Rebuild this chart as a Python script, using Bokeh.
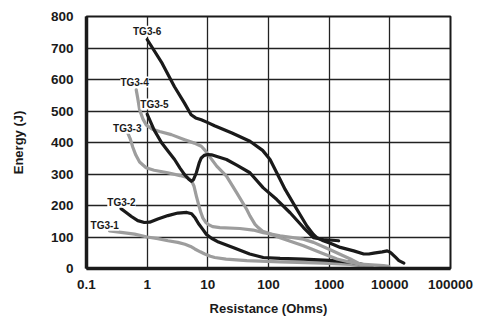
from bokeh.plotting import figure
from bokeh.models import Range1d, FixedTicker, CustomJSTickFormatter, Label
from bokeh.embed import file_html
from bokeh.resources import INLINE

# ---- data ----
R_TG31 = [0.24, 0.4, 0.62, 1.0, 1.5, 2.2, 3.2, 4.2, 5.2, 6.1, 7.5, 8.9, 11, 13, 20, 44, 155, 800, 2234, 4800]
E_TG31 = [119, 114, 109, 100, 95, 88, 83, 77, 70, 62, 53, 46, 39, 35, 30, 25, 21, 17, 13, 5]

R_TG32 = [0.37, 0.45, 0.55, 0.7, 0.9, 1.1, 1.5, 2.2, 3.2, 4.5, 5.4, 6.2, 7, 8.2, 9.5, 11.5, 15, 26, 49, 82, 155, 377, 1000, 2234, 5000]
E_TG32 = [190, 178, 165, 152, 146, 147, 157, 168, 176, 178, 174, 160, 143, 125, 108, 96, 84, 67, 46, 35, 32, 30, 26, 20, 8]

R_TG33 = [0.48, 0.53, 0.58, 0.65, 0.75, 0.96, 1.3, 2.19, 3.5, 4.7, 5.4, 5.9, 6.47, 7.0, 7.6, 8.3, 9.2, 10.1, 12, 15.8, 33.7, 56, 82, 155, 377, 552, 977, 2234, 3270, 7870, 9600]
E_TG33 = [430, 410, 385, 360, 338, 320, 312, 304, 295, 288, 278, 262, 230, 205, 180, 160, 147, 140, 133, 130, 127, 122, 114, 104, 93, 83, 62, 30, 14, 9, 7]

R_TG34 = [0.66, 0.7, 0.75, 0.85, 0.96, 1.2, 1.6, 2.5, 4.15, 6, 7.8, 9, 10.7, 14, 20.3, 30, 43.6, 49.4, 60, 67.6, 80, 93, 155, 377, 713, 1346, 2234, 5100]
E_TG34 = [567, 540, 504, 475, 456, 443, 435, 425, 409, 398, 388, 375, 355, 325, 293, 240, 188, 167, 140, 130, 118, 114, 98, 72, 51, 30, 20, 5]

R_TG35 = [1, 1.3, 1.73, 2.3, 2.83, 3.5, 4.14, 4.8, 5.35, 5.8, 6.47, 7.2, 7.8, 8.7, 10, 11.5, 15, 20.3, 30, 49.4, 82, 137, 227, 377, 552, 800, 1432]
E_TG35 = [490, 440, 399, 368, 346, 318, 298, 284, 277, 282, 304, 335, 351, 359, 362, 361, 354, 346, 328, 304, 256, 219, 177, 130, 98, 92, 88]

R_TG36 = [1, 1.77, 2.82, 4.12, 5.3, 6.3, 7.8, 10, 12.9, 25, 49.4, 80, 106, 140, 188, 293, 429, 550, 628, 800, 1043, 1527, 2535, 3715, 4500, 5430, 7500, 9060, 10000, 10960, 12500, 14100, 17060]
E_TG36 = [727, 651, 577, 525, 488, 478, 472, 463, 453, 430, 404, 375, 346, 300, 251, 188, 135, 108, 98, 88, 80, 67, 56, 46, 46, 49, 53, 56, 52, 46, 35, 25, 17]

SERIES = ["TG3-1", "TG3-2", "TG3-3", "TG3-4", "TG3-5", "TG3-6"]
LABEL_R = [0.2, 0.377, 0.47, 0.62, 1.32, 1.0]
LABEL_E = [137, 210, 445, 592, 522, 753]

X_TICKS = [0.1, 1, 10, 100, 1000, 10000, 100000]
Y_TICKS = [0, 100, 200, 300, 400, 500, 600, 700, 800]

BLACK = "#1a1a1a"
GRAY = "#9d9d9d"
FONT = "Liberation Sans"

p = figure(width=477, height=318, x_axis_type="log",
           x_range=Range1d(0.1, 100000), y_range=Range1d(0, 800),
           output_backend="svg", toolbar_location=None,
           min_border_left=86, min_border_right=27,
           min_border_top=16, min_border_bottom=48)

p.outline_line_color = BLACK
p.outline_line_width = 2
p.background_fill_color = "white"
p.border_fill_color = "white"

for g in (p.xgrid, p.ygrid):
    g.grid_line_color = "#222222"
    g.grid_line_width = 1.3
p.xgrid.ticker = FixedTicker(ticks=X_TICKS)
p.ygrid.ticker = FixedTicker(ticks=Y_TICKS)

p.xaxis.ticker = FixedTicker(ticks=X_TICKS)
p.yaxis.ticker = FixedTicker(ticks=Y_TICKS)
p.xaxis.formatter = CustomJSTickFormatter(code="return tick.toString();")

for ax in (p.xaxis[0], p.yaxis[0]):
    ax.axis_line_color = BLACK
    ax.axis_line_width = 3.5
    ax.major_tick_line_color = None
    ax.minor_tick_line_color = None
    ax.major_tick_out = 0
    ax.major_tick_in = 0
    ax.minor_tick_out = 0
    ax.major_label_text_font = FONT
    ax.major_label_text_font_style = "bold"
    ax.major_label_text_font_size = "13.5px"
    ax.major_label_text_color = BLACK
    ax.axis_label_text_font = FONT
    ax.axis_label_text_font_style = "bold"
    ax.axis_label_text_font_size = "13px"
    ax.axis_label_text_color = BLACK

p.xaxis.axis_label = "Resistance (Ohms)"
p.yaxis.axis_label = "Energy (J)"
p.xaxis.major_label_standoff = 11
p.yaxis.major_label_standoff = 13
p.xaxis.axis_label_standoff = 9
p.yaxis.axis_label_standoff = 22

data = [(R_TG31, E_TG31, GRAY), (R_TG32, E_TG32, BLACK), (R_TG33, E_TG33, GRAY),
        (R_TG34, E_TG34, GRAY), (R_TG35, E_TG35, BLACK), (R_TG36, E_TG36, BLACK)]
for r, e, c in data:
    p.line(r, e, line_color=c, line_width=3.2, line_join="round", line_cap="round")

for name, lr, le in zip(SERIES, LABEL_R, LABEL_E):
    p.add_layout(Label(x=lr, y=le, text=name, text_align="center", text_baseline="middle",
                       text_font=FONT, text_font_style="bold", text_font_size="10px",
                       text_color=BLACK, background_fill_color="white",
                       background_fill_alpha=1.0))

open("out.html", "w").write(file_html(p, INLINE))
